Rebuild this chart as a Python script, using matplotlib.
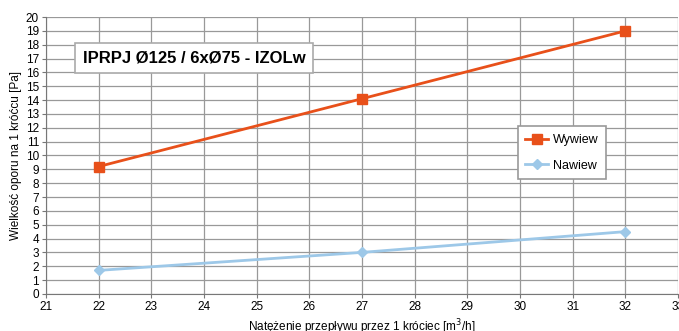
import matplotlib
matplotlib.use('Agg')
import matplotlib.pyplot as plt

plt.rcParams['font.family'] = ['Liberation Sans', 'DejaVu Sans']

# data
flow = [22, 27, 32]
wywiew = [9.2, 14.1, 19.0]
nawiew = [1.7, 3.0, 4.5]
xticks = list(range(21, 34))
yticks = list(range(0, 21))

fig = plt.figure(figsize=(6.79, 3.31), dpi=100)
ax = fig.add_axes([0.0677, 0.112, 0.931, 0.8366])

ax.plot(flow, wywiew, color='#E8501A', lw=2, marker='s', ms=7, label='Wywiew', zorder=3)
ax.plot(flow, nawiew, color='#9DC8E8', lw=2, marker='D', ms=5, label='Nawiew', zorder=3)

ax.set_xlim(21, 33)
ax.set_ylim(0, 20)
ax.set_xticks(xticks)
ax.set_yticks(yticks)
ax.tick_params(labelsize=8.5, length=3, color='#777777', pad=2)
ax.grid(True, color='#999999', lw=0.9)
ax.set_axisbelow(True)
for s in ['top', 'right']:
    ax.spines[s].set_visible(False)
for s in ['left', 'bottom']:
    ax.spines[s].set_color('#777777')

ax.set_xlabel('Natężenie przepływu przez 1 króciec [m$^3$/h]', fontsize=8.5, labelpad=3)
ax.set_ylabel('Wielkość oporu na 1 króćcu [Pa]', fontsize=8.5, labelpad=3)

ax.text(0.058, 0.852, 'IPRPJ Ø125 / 6xØ75 - IZOLw', transform=ax.transAxes,
        fontsize=12, fontweight='bold', va='center', ha='left',
        bbox=dict(boxstyle='square,pad=0.45', fc='white', ec='#aaaaaa', lw=1.2))

leg = ax.legend(loc='upper left', bbox_to_anchor=(0.7465, 0.605), fontsize=9,
                frameon=True, fancybox=False, edgecolor='#999999', framealpha=1,
                handlelength=1.8, handletextpad=0.4, borderpad=0.6,
                borderaxespad=0, labelspacing=1.1)
leg.get_frame().set_linewidth(1.2)

fig.savefig('out.png', dpi=100)
